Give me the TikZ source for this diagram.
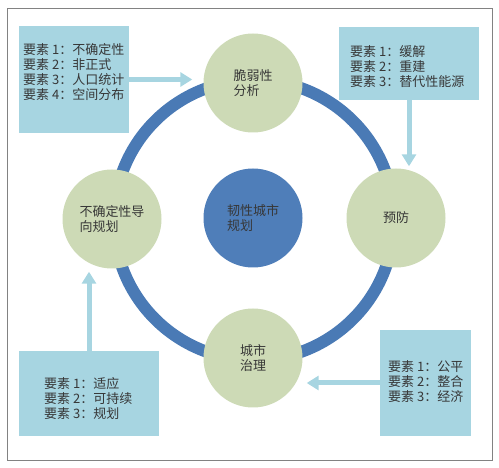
\documentclass[tikz,border=0pt]{standalone}
\usepackage{fontspec}
\setmainfont{Noto Sans CJK SC}
\usepackage{xcolor}
\usetikzlibrary{arrows.meta, positioning}
\definecolor{ringblue}{RGB}{74,122,181}
\definecolor{hubblue}{RGB}{79,126,185}
\definecolor{stagegreen}{RGB}{205,218,182}
\definecolor{boxblue}{RGB}{167,213,225}
\definecolor{txtgray}{RGB}{55,55,55}
\definecolor{framegray}{RGB}{130,130,130}

\begin{document}
\begin{tikzpicture}[x=1pt,y=-1pt,
  stage/.style={circle,fill=stagegreen,minimum size=99pt,inner sep=0pt,align=left,
    text=txtgray,font=\fontsize{13}{15.5}\selectfont},
  hub/.style={stage,fill=hubblue},
  infobox/.style={rectangle,fill=boxblue,inner sep=0pt},
  infotext/.style={anchor=west,align=left,inner sep=0pt,text=txtgray,
    font=\fontsize{13}{15}\selectfont},
  feed/.style={-{Triangle[width=14pt,length=12pt]},line width=5pt,draw=boxblue}]
  \useasboundingbox (0,0) rectangle (499,468);
  % Frame
  \draw[framegray,line width=1pt] (7,9) rectangle (492,461);
  % Ring
  \draw[ringblue,line width=12pt] (254,220) circle (140);
  % Stages
  \node[hub] (core) at (253,218) {韧性城市\\规划};
  \node[stage] (vul) at (253,83) {脆弱性\\分析};
  \node[stage] (prev) at (396,218) {预防};
  \node[stage] (gov) at (253,358) {城市\\治理};
  \node[stage] (unc) at (112,219) {不确定性导\\向规划};
  % Element boxes
  \node[infobox,minimum width=110pt,minimum height=107pt] (tlbox) at (74,79.5) {};
  \node[infotext] (tltext) at (23,72) {要素 1：不确定性\\要素 2：非正式\\要素 3：人口统计\\要素 4：空间分布};
  \node[infobox,minimum width=140pt,minimum height=73pt] (trbox) at (409,63.5) {};
  \node[infotext] (trtext) at (350,67) {要素 1：缓解\\要素 2：重建\\要素 3：替代性能源};
  \node[infobox,minimum width=140pt,minimum height=85pt] (blbox) at (89,393.5) {};
  \node[infotext] (bltext) at (44,399) {要素 1：适应\\要素 2：可持续\\要素 3：规划};
  \node[infobox,minimum width=91pt,minimum height=106pt] (brbox) at (425.5,383) {};
  \node[infotext] (brtext) at (388,382) {要素 1：公平\\要素 2：整合\\要素 3：经济};
  % Arrows
  \draw[feed,shorten >=11pt] (tlbox.east) -- (tlbox.east -| vul.west);
  \draw[feed,shorten >=2pt] (trbox.south) -- (trbox.south |- prev.north);
  \draw[feed,shorten >=3pt] (blbox.north) -- (blbox.north |- unc.south);
  \draw[feed,shorten >=4pt] (brbox.west) -- (brbox.west -| gov.east);
\end{tikzpicture}
\end{document}
